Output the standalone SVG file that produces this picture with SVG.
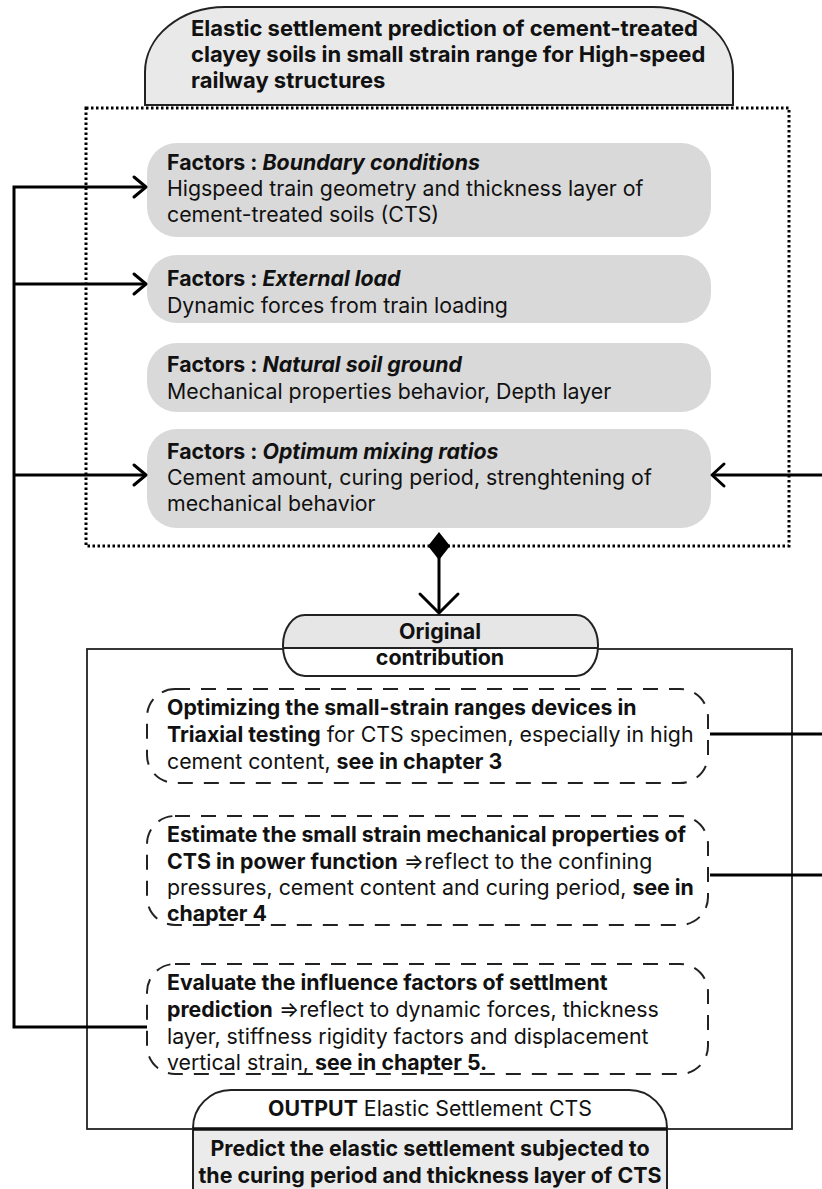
<svg xmlns="http://www.w3.org/2000/svg" width="822" height="1189" viewBox="0 0 822 1189">
<defs>
<style>
text{font-family:Inter,"Noto Sans","Liberation Sans",sans-serif;fill:#111;}
.t{font-size:22px;font-weight:700;}
.t2{font-size:21.4px;font-weight:700;}
.n{font-size:21.3px;font-weight:400;}
.b{font-weight:700;}
.bi{font-weight:700;font-style:italic;}
.factor{fill:#d9d9d9;stroke:none;}
.dash{fill:#fff;stroke:#222;stroke-width:2;stroke-dasharray:15 11;}
.conn{fill:none;stroke:#000;stroke-width:3;}
.head{fill:none;stroke:#000;stroke-width:3;stroke-linecap:round;stroke-linejoin:round;}
</style>
</defs>
<rect width="822" height="1189" fill="#fff"/>

<g id="title">
<path d="M145,105 V72 A80,65 0 0 1 225,7 H653 A80,65 0 0 1 733,72 V105 Z" fill="#e9e9e9" stroke="#222" stroke-width="2"/>
<text class="t" x="191" y="36">Elastic settlement prediction of cement-treated</text>
<text class="t" x="191" y="62">clayey soils in small strain range for High-speed</text>
<text class="t" x="191" y="88">railway structures</text>
</g>

<g id="factors-group">
<rect x="86" y="108" width="703" height="438" fill="none" stroke="#000" stroke-width="3" stroke-dasharray="2.5 2.5"/>
</g>

<g id="factor-boundary">
<rect class="factor" x="147" y="143" width="564" height="94" rx="30"/>
<text class="n" x="167" y="170"><tspan class="b">Factors : </tspan><tspan class="bi">Boundary conditions</tspan></text>
<text class="n" x="167" y="196">Higspeed train geometry and thickness layer of</text>
<text class="n" x="167" y="222">cement-treated soils (CTS)</text>
</g>

<g id="factor-external">
<rect class="factor" x="147" y="255" width="564" height="68" rx="30"/>
<text class="n" x="167" y="286"><tspan class="b">Factors : </tspan><tspan class="bi">External load</tspan></text>
<text class="n" x="167" y="313">Dynamic forces from train loading</text>
</g>

<g id="factor-natural">
<rect class="factor" x="147" y="343" width="564" height="69" rx="30"/>
<text class="n" x="167" y="372"><tspan class="b">Factors : </tspan><tspan class="bi">Natural soil ground</tspan></text>
<text class="n" x="167" y="399">Mechanical properties behavior, Depth layer</text>
</g>

<g id="factor-mixing">
<rect class="factor" x="147" y="429" width="564" height="99" rx="30"/>
<text class="n" x="167" y="459"><tspan class="b">Factors : </tspan><tspan class="bi">Optimum mixing ratios</tspan></text>
<text class="n" x="167" y="485">Cement amount, curing period, strenghtening of</text>
<text class="n" x="167" y="511">mechanical behavior</text>
</g>

<g id="contribution-frame">
<rect x="87" y="649" width="705" height="480" fill="none" stroke="#222" stroke-width="1.8"/>
</g>

<g id="original-contribution">
<path d="M305,615 H576 A22,30 0 0 1 598,645 V648 H283 V645 A22,30 0 0 1 305,615 Z" fill="#e6e6e6"/>
<path d="M283,648 H598 V646 A22,30 0 0 1 576,676 H305 A22,30 0 0 1 283,646 Z" fill="#fff"/>
<rect x="283" y="615" width="315" height="61" rx="22" ry="30" fill="none" stroke="#222" stroke-width="2"/>
<line x1="283" y1="648" x2="598" y2="648" stroke="#222" stroke-width="2"/>
<text class="t2" x="440" y="639" text-anchor="middle">Original</text>
<text class="t2" x="440" y="665" text-anchor="middle">contribution</text>
</g>

<g id="contrib-triaxial">
<rect class="dash" x="147" y="689" width="561" height="94" rx="28"/>
<text class="n" x="167" y="715"><tspan class="b">Optimizing the small-strain ranges devices in</tspan></text>
<text class="n" x="167" y="742"><tspan class="b">Triaxial testing</tspan> for CTS specimen, especially in high</text>
<text class="n" x="167" y="769">cement content, <tspan class="b">see in chapter 3</tspan></text>
</g>

<g id="contrib-power">
<rect class="dash" x="147" y="816" width="561" height="109" rx="28"/>
<text class="n" x="167" y="842"><tspan class="b">Estimate the small strain mechanical properties of</tspan></text>
<text class="n" x="167" y="869"><tspan class="b">CTS in power function</tspan> ⇒reflect to the confining</text>
<text class="n" x="167" y="895">pressures, cement content and curing period, <tspan class="b">see in</tspan></text>
<text class="n" x="167" y="921"><tspan class="b">chapter 4</tspan></text>
</g>

<g id="contrib-settlement">
<rect class="dash" x="147" y="964" width="561" height="110" rx="28"/>
<text class="n" x="167" y="990"><tspan class="b">Evaluate the influence factors of settlment</tspan></text>
<text class="n" x="167" y="1017"><tspan class="b">prediction</tspan> ⇒reflect to dynamic forces, thickness</text>
<text class="n" x="167" y="1044">layer, stiffness rigidity factors and displacement</text>
<text class="n" x="167" y="1070">vertical strain, <tspan class="b">see in chapter 5.</tspan></text>
</g>

<g id="output">
<path d="M193,1129 V1128 A38,38 0 0 1 231,1090 H629 A38,38 0 0 1 667,1128 V1129 Z" fill="#fff" stroke="#222" stroke-width="2"/>
<text class="n" x="430" y="1116" text-anchor="middle"><tspan class="b">OUTPUT</tspan> Elastic Settlement CTS</text>
</g>

<g id="predict">
<rect x="193" y="1129" width="474" height="70" fill="#ebebeb" stroke="#222" stroke-width="2"/>
<line x1="193" y1="1129" x2="667" y2="1129" stroke="#111" stroke-width="3.5"/>
<text class="t2" x="430" y="1156" text-anchor="middle">Predict the elastic settlement subjected to</text>
<text class="t2" x="430" y="1183" text-anchor="middle">the curing period and thickness layer of CTS</text>
</g>

<g id="connectors">
<polyline class="conn" points="147,1027 14,1027 14,187 145,187"/>
<line class="conn" x1="14" y1="284" x2="145" y2="284"/>
<line class="conn" x1="14" y1="475" x2="145" y2="475"/>
<polyline class="head" points="134,177 146,187 134,197"/>
<polyline class="head" points="134,274 146,284 134,294"/>
<polyline class="head" points="134,465 146,475 134,485"/>
<line class="conn" x1="822" y1="475" x2="713" y2="475"/>
<polyline class="head" points="724,464 712,475 724,486"/>
<line class="conn" x1="710" y1="734" x2="822" y2="734"/>
<line class="conn" x1="710" y1="875" x2="822" y2="875"/>
<path d="M439,532 L450,546 L439,560 L428,546 Z" fill="#000"/>
<line class="conn" x1="439" y1="556" x2="439" y2="611"/>
<polyline class="head" points="420,594 439,613 458,594"/>
</g>
</svg>
